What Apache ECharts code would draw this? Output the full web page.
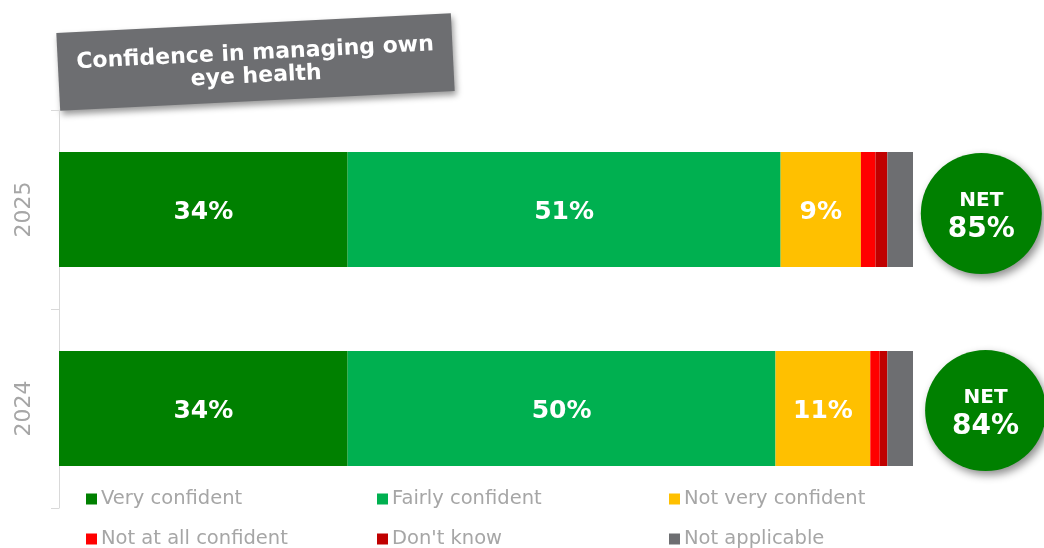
<!DOCTYPE html>
<html>
<head>
<meta charset="utf-8">
<script src="https://cdn.jsdelivr.net/npm/echarts@6/dist/echarts.min.js"></script>
<style>
  html, body { margin: 0; padding: 0; background: #fff; }
  #chart { width: 1044px; height: 548px; }
</style>
</head>
<body>
<div id="chart"></div>
<script>
const years = ["2025", "2024"];
const seriesNames = ["Very confident", "Fairly confident", "Not very confident", "Not at all confident", "Don't know", "Not applicable"];
const veryConfident = [33.8, 33.8];
const fairlyConfident = [50.7, 50.1];
const notVeryConfident = [9.4, 11.1];
const notAtAllConfident = [1.7, 1.1];
const dontKnow = [1.4, 0.9];
const notApplicable = [3.0, 3.0];
const netValues = [85, 84];

const colors = ["#008000", "#00B050", "#FFC000", "#FF0000", "#C00000", "#6D6E71"];
const values = [veryConfident, fairlyConfident, notVeryConfident, notAtAllConfident, dontKnow, notApplicable];
const labelled = [true, true, true, false, false, false];

const FONT = "DejaVu Sans";
const GREY_TEXT = "#A6A6A6";

// where the NET bubbles sit, in x-axis units beyond the 100% end
const netX = [108, 108.5];
const netOffset = [[0, 4], [0, 2]];

const chart = echarts.init(document.getElementById("chart"));

const barSeries = seriesNames.map((name, i) => ({
  name,
  type: "bar",
  stack: "total",
  barWidth: 115,
  itemStyle: { color: colors[i] },
  emphasis: { disabled: true },
  label: {
    show: labelled[i],
    position: "inside",
    offset: [0, 3],
    color: "#fff",
    fontFamily: FONT,
    fontWeight: "bold",
    fontSize: 25,
    formatter: (p) => Math.round(p.value) + "%"
  },
  data: values[i]
}));

const netSeries = {
  type: "scatter",
  clip: false,
  symbol: "circle",
  symbolSize: 121,
  z: 5,
  itemStyle: {
    color: "#008000",
    opacity: 1,
    shadowBlur: 8,
    shadowOffsetX: 3,
    shadowOffsetY: 4,
    shadowColor: "rgba(0,0,0,0.45)"
  },
  emphasis: { disabled: true },
  label: {
    show: true,
    position: "inside",
    offset: [0, 3],
    formatter: (p) => "{a|NET}\n{b|" + netValues[p.dataIndex] + "%}",
    rich: {
      a: { color: "#fff", fontFamily: FONT, fontWeight: "bold", fontSize: 20, lineHeight: 26 },
      b: { color: "#fff", fontFamily: FONT, fontWeight: "bold", fontSize: 28, lineHeight: 32 }
    }
  },
  data: years.map((y, i) => ({ value: [netX[i], y], symbolOffset: netOffset[i] }))
};

const legendBase = {
  orient: "vertical",
  top: 489,
  height: 80,
  padding: 0,
  itemGap: 20,
  itemWidth: 11,
  itemHeight: 11,
  icon: "rect",
  selectedMode: false,
  textStyle: { color: GREY_TEXT, fontFamily: FONT, fontSize: 19.5, lineHeight: 20, padding: [0, 0, 0, -1] }
};

chart.setOption({
  animation: false,
  backgroundColor: "#fff",
  grid: { left: 59, right: 131, top: 110, bottom: 40 },
  legend: [
    Object.assign({}, legendBase, { left: 86, data: [seriesNames[0], seriesNames[3]] }),
    Object.assign({}, legendBase, { left: 377, data: [seriesNames[1], seriesNames[4]] }),
    Object.assign({}, legendBase, { left: 669, data: [seriesNames[2], seriesNames[5]] })
  ],
  xAxis: {
    type: "value",
    min: 0,
    max: 100,
    show: false
  },
  yAxis: {
    type: "category",
    inverse: true,
    data: years,
    axisLine: { show: true, lineStyle: { color: "#D9D9D9", width: 1 } },
    axisTick: { show: true, length: 8, lineStyle: { color: "#D9D9D9" } },
    axisLabel: {
      rotate: 90,
      margin: 24,
      color: GREY_TEXT,
      fontFamily: FONT,
      fontSize: 22
    }
  },
  series: [...barSeries, netSeries],
  graphic: [
    {
      type: "group",
      x: 255.5,
      y: 62,
      rotation: 0.05,
      children: [
        {
          type: "rect",
          shape: { x: -197.5, y: -39, width: 395, height: 78 },
          style: {
            fill: "#6D6E71",
            shadowBlur: 6,
            shadowOffsetX: 2,
            shadowOffsetY: 4,
            shadowColor: "rgba(0,0,0,0.4)"
          }
        },
        {
          type: "text",
          x: 0,
          y: 3,
          style: {
            text: "Confidence in managing own\neye health",
            fill: "#fff",
            font: "bold 22px 'DejaVu Sans'",
            align: "center",
            verticalAlign: "middle",
            lineHeight: 23
          }
        }
      ]
    }
  ]
});
</script>
</body>
</html>
